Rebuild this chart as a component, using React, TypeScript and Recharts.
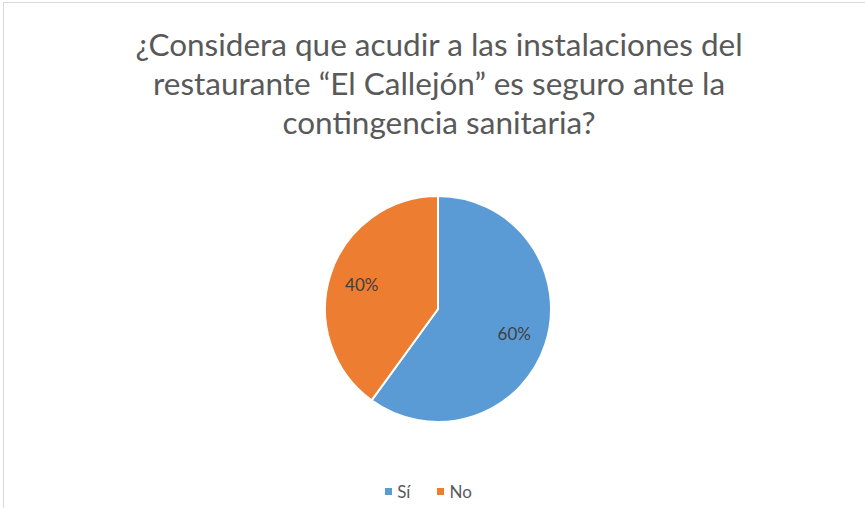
import React from 'react';
import { PieChart, Pie, Cell, Legend } from 'recharts';

const categories = ['Sí', 'No'];
const values = [60, 40];
const colors = ['#5b9bd5', '#ed7d31'];

const titleLines = [
  '¿Considera que acudir a las instalaciones del',
  'restaurante “El Callejón” es seguro ante la',
  'contingencia sanitaria?',
];

const data = categories.map((name, i) => ({ name, value: values[i] }));
const total = values.reduce((a, b) => a + b, 0);

const RADIAN = Math.PI / 180;

const renderLabel = (props: any) => {
  const { cx, cy, midAngle, outerRadius, value } = props;
  const r = outerRadius * 0.71;
  const x = cx + r * Math.cos(-midAngle * RADIAN);
  const y = cy + r * Math.sin(-midAngle * RADIAN);
  return (
    <text
      x={x}
      y={y}
      fill="#404040"
      fontSize={17}
      fontFamily="Lato, 'Open Sans', sans-serif"
      textAnchor="middle"
      dominantBaseline="central"
    >
      {`${Math.round((value / total) * 100)}%`}
    </text>
  );
};

const LegendContent = () => (
  <div
    style={{
      display: 'flex',
      justifyContent: 'center',
      gap: 27,
      paddingRight: 8,
      fontFamily: "Lato, 'Open Sans', sans-serif",
      fontSize: 17,
      color: '#595959',
    }}
  >
    {data.map((d, i) => (
      <span key={d.name} style={{ display: 'flex', alignItems: 'center' }}>
        <span
          style={{
            display: 'inline-block',
            width: 7,
            height: 7,
            background: colors[i],
            marginRight: 5,
          }}
        />
        {d.name}
      </span>
    ))}
  </div>
);

export default function App() {
  return (
    <div
      style={{
        position: 'fixed',
        left: 0,
        top: 0,
        width: 865,
        height: 508,
        background: '#fff',
        overflow: 'hidden',
      }}
    >
      <div
        style={{
          position: 'absolute',
          left: 3,
          top: 2,
          width: 900,
          height: 540,
          border: '1px solid #d9d9d9',
        }}
      />
      <div
        style={{
          position: 'absolute',
          left: 0,
          top: 25,
          width: 878,
          textAlign: 'center',
          fontFamily: "Lato, 'Open Sans', sans-serif",
          fontSize: 31.5,
          lineHeight: '39px',
          color: '#595959',
        }}
      >
        {titleLines.map((l) => (
          <div key={l}>{l}</div>
        ))}
      </div>
      <div style={{ position: 'absolute', left: 0, top: 0 }}>
        <PieChart width={865} height={508} margin={{ top: 0, right: 0, bottom: 0, left: 0 }}>
          <Pie
            data={data}
            dataKey="value"
            nameKey="name"
            cx={438}
            cy={309}
            outerRadius={113}
            startAngle={90}
            endAngle={-270}
            stroke="#ffffff"
            strokeWidth={2}
            label={renderLabel}
            labelLine={false}
            isAnimationActive={false}
          >
            {data.map((d, i) => (
              <Cell key={d.name} fill={colors[i]} />
            ))}
          </Pie>
          <Legend
            content={<LegendContent />}
            verticalAlign="bottom"
            wrapperStyle={{ left: 0, width: 865, bottom: 6 }}
          />
        </PieChart>
      </div>
    </div>
  );
}
